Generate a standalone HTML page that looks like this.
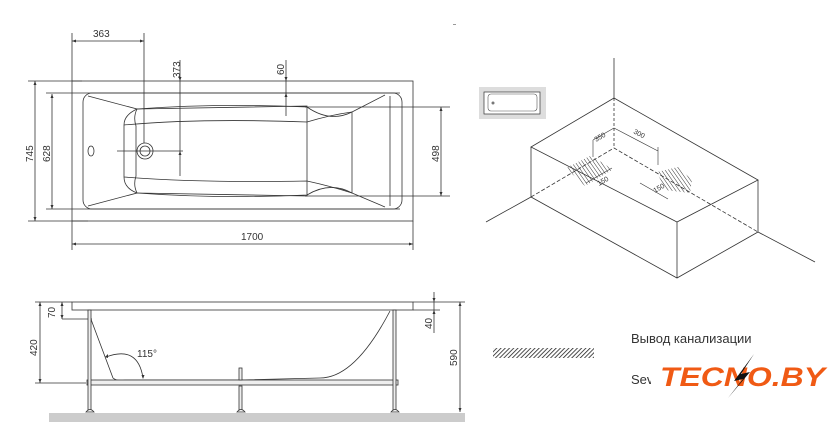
<!DOCTYPE html>
<html><head><meta charset="utf-8"><style>
html,body{margin:0;padding:0;background:#fff;width:839px;height:445px;overflow:hidden}
svg{display:block}
text{font-family:"Liberation Sans",sans-serif;fill:#333}
</style></head><body>
<svg width="839" height="445" viewBox="0 0 839 445" xmlns="http://www.w3.org/2000/svg">
<defs>
<pattern id="h" width="3" height="3" patternUnits="userSpaceOnUse" patternTransform="rotate(45)">
<rect width="3" height="3" fill="#fff"/><line x1="0" y1="0" x2="0" y2="3" stroke="#222" stroke-width="1.6"/></pattern>
<pattern id="h2" width="3" height="3" patternUnits="userSpaceOnUse" patternTransform="rotate(-35)">
<line x1="0" y1="0" x2="0" y2="3" stroke="#333" stroke-width="1"/></pattern>
</defs>
<g stroke="#333" stroke-width="0.8" fill="none">
<rect x="72" y="81" width="341" height="140"/>
<line x1="46" y1="93" x2="400" y2="93"/>
<line x1="46" y1="209" x2="400" y2="209"/>
<rect x="83" y="93" width="319" height="116" rx="9"/>
<line x1="390" y1="96" x2="390" y2="206"/>
<path d="M88 96 L137 109 Q124 115 124 125 L124 177 Q124 188 137 193 L88 206"/>
<path d="M137 109 L307 106 L307 196 L137 193 Q133 185 136 176 L136 126 Q133 117 137 109"/>
<path d="M137 109 Q220 103 307 107 Q330 123 352 112 L385 95"/>
<path d="M137 193 Q220 199 307 195 Q330 181 352 193 L385 207"/>
<path d="M124 125 Q200 118 307 122 Q330 115 352 112"/>
<path d="M124 177 Q200 183 307 181 Q330 186 352 193"/>
<line x1="352" y1="112" x2="352" y2="193"/>
<circle cx="145" cy="151" r="8"/><circle cx="145" cy="151" r="5"/>
<ellipse cx="91" cy="151" rx="3" ry="5"/>
<line x1="117" y1="151" x2="183" y2="151"/>
<line x1="72" y1="33" x2="72" y2="81"/>
<line x1="144" y1="33" x2="144" y2="143"/>
<line x1="72" y1="41" x2="144" y2="41"/>
<line x1="180" y1="60" x2="180" y2="176"/>
<line x1="286" y1="60" x2="286" y2="116"/>
<line x1="35" y1="81" x2="35" y2="221"/>
<line x1="28" y1="81" x2="82" y2="81"/><line x1="28" y1="221" x2="88" y2="221"/>
<line x1="52" y1="94" x2="52" y2="209"/>
<line x1="441" y1="107" x2="441" y2="196"/>
<line x1="305" y1="107" x2="450" y2="107"/><line x1="305" y1="196" x2="450" y2="196"/>
<line x1="72" y1="221" x2="72" y2="250"/><line x1="413" y1="221" x2="413" y2="250"/>
<line x1="72" y1="244" x2="413" y2="244"/>
</g>
<g fill="#333">
<path d="M72 41l4-1.5v3zM144 41l-4-1.5v3zM35 81l-1.5 4h3zM35 221l-1.5-4h3zM52 94l-1.5 4h3zM52 209l-1.5-4h3zM441 107l-1.5 4h3zM441 196l-1.5-4h3zM72 244l4-1.5v3zM413 244l-4-1.5v3zM180 81l-1.5-4h3zM180 151l-1.5 4h3zM286 81l-1.5-4h3zM286 93l-1.5 4h3z"/>
</g>
<g font-size="10">
<text x="93" y="37">363</text>
<text x="241" y="240">1700</text>
<text transform="translate(180,78) rotate(-90)">373</text>
<text transform="translate(284,75) rotate(-90)">60</text>
<text transform="translate(33,162) rotate(-90)">745</text>
<text transform="translate(50,162) rotate(-90)">628</text>
<text transform="translate(439,162) rotate(-90)">498</text>
</g>
<rect x="49" y="413" width="416" height="9" fill="#ccc"/>
<g stroke="#333" stroke-width="0.8" fill="none">
<rect x="72" y="302" width="341" height="8"/>
<line x1="35" y1="302" x2="72" y2="302"/>
<line x1="62" y1="319" x2="92" y2="319"/>
<line x1="35" y1="383" x2="86" y2="383"/>
<line x1="40" y1="302" x2="40" y2="383"/>
<line x1="62" y1="302" x2="62" y2="319"/>
<path d="M88 311 L92 322 L113 378 Q116 381 125 380 L240 380 L320 378 Q355 378 390 311"/>
<rect x="87" y="380" width="311" height="5" fill="#eee"/>
<rect x="88" y="310" width="3" height="100" fill="#eee"/>
<rect x="393" y="310" width="3" height="100" fill="#eee"/>
<rect x="239" y="386" width="3" height="24" fill="#eee"/>
<rect x="239" y="368" width="3" height="12" fill="#eee"/>
<path d="M86 412 q4-5 8 0z M237 412 q4-5 8 0z M391 412 q4-5 8 0z" fill="#eee"/>
<path d="M106 357 Q138 345 143 378"/>
<line x1="413" y1="302" x2="465" y2="302"/><line x1="413" y1="310" x2="440" y2="310"/>
<line x1="434" y1="292" x2="434" y2="333"/>
<line x1="460" y1="302" x2="460" y2="412"/>
</g>
<g fill="#333"><path d="M40 302l-1.5 4h3zM40 383l-1.5-4h3zM62 302l-1.5 4h3zM62 319l-1.5-4h3zM460 302l-1.5 4h3zM460 412l-1.5-4h3zM434 302l-1.5-4h3zM434 310l-1.5 4h3zM143 379l-1.5-4h3zM105 357l3-3v4z"/></g>
<g font-size="10">
<text x="137" y="357">115°</text>
<text transform="translate(37,356) rotate(-90)">420</text>
<text transform="translate(55,318) rotate(-90)">70</text>
<text transform="translate(432,329) rotate(-90)">40</text>
<text transform="translate(457,366) rotate(-90)">590</text>
</g>
<rect x="479" y="87" width="67" height="32" fill="#ddd"/>
<rect x="484" y="92" width="56" height="22" fill="#fff" stroke="#333" stroke-width="0.7"/>
<rect x="488" y="94" width="49" height="17" rx="3" fill="none" stroke="#555" stroke-width="0.6"/>
<circle cx="493" cy="103" r="1.5" fill="#777"/>
<g stroke="#333" stroke-width="0.8" fill="none">
<line x1="614" y1="58" x2="614" y2="98"/>
<line x1="614" y1="98" x2="614" y2="148" stroke-dasharray="3,2"/>
<path d="M614 98 L531 147 L677 222 L758 180 Z"/>
<line x1="531" y1="147" x2="531" y2="197"/>
<line x1="677" y1="222" x2="677" y2="278"/>
<line x1="758" y1="180" x2="758" y2="232"/>
<path d="M531 197 L677 278 L758 232"/>
<line x1="486" y1="222" x2="531" y2="197"/>
<line x1="815" y1="262" x2="758" y2="232"/>
<path d="M531 197 L614 148 L758 232" stroke-dasharray="4,2"/>
<path d="M593 140 L593 157 M593 140 L614 128 M658 147 L658 165 M614 128 L658 151" stroke-width="0.6"/>
<path d="M586 183 L612 168 M640 183 L668 199" stroke-width="0.6"/>
</g>
<path d="M566 168 L590 156 L605 164 L612 170 L585 186 Z" fill="url(#h2)"/>
<path d="M657 172 L678 167 L692 180 L690 193 L665 190 Z" fill="url(#h2)"/>
<g font-size="7" fill="#555">
<text transform="translate(596,142) rotate(-30)">350</text>
<text transform="translate(633,133) rotate(28)">300</text>
<text transform="translate(599,186) rotate(-30)">150</text>
<text transform="translate(655,193) rotate(-30)">150</text>
</g>
<rect x="493" y="348" width="101" height="10" fill="url(#h)"/>
<text x="631" y="343" font-size="13" fill="#111">Вывод канализации</text>
<text x="631" y="384" font-size="13" fill="#111">Sev</text>
<rect x="651" y="365" width="185" height="30" fill="#fff"/>
<text x="660" y="386" font-size="27" font-weight="bold" font-style="italic" textLength="165" lengthAdjust="spacingAndGlyphs" style="fill:#f05a14">TECNO.BY</text>
<path d="M754 354 L734 381 L743 379 L728 398 L750 372 L741 374 Z" fill="#111"/>
<rect x="453" y="24" width="3" height="1" fill="#999"/>
</svg>
</body></html>
